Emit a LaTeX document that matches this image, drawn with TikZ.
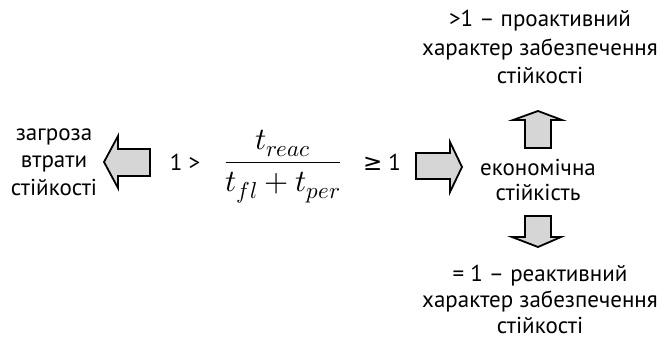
\documentclass[tikz,border=0pt]{standalone}
\usepackage{amsmath}
\usepackage{fontspec}
\usepackage{unicode-math}
\setmainfont{PT Sans}
\setmathfont{Latin Modern Math}
\newfontfamily\symfont{DejaVu Sans}
\newcommand\subbox[1]{\hbox{\fontsize{23}{23}\selectfont$#1$}}
\definecolor{arrfill}{HTML}{D6D6D6}
\tikzset{
  lbl/.style={font=\fontsize{23}{28}\selectfont, anchor=base, inner sep=0pt},
  bigarrow/.style={draw=black, line width=1.8pt, fill=arrfill, line join=miter},
}
\begin{document}
\begin{tikzpicture}[x=1pt,y=-1pt]
\useasboundingbox (0,0) rectangle (663,343);
% left text
\node[lbl] (threat1) at (54,140) {загроза};
\node[lbl] (threat2) at (54,167) {втрати};
\node[lbl] (threat3) at (54,195) {стійкості};
% left arrow
\draw[bigarrow] (104,162) -- (118,136) -- (118,149) -- (150,149) -- (150,176) -- (118,176) -- (118,188) -- cycle;
% 1 >
\node[lbl] (lt) at (185,170) {1 >};
% fraction
\node[anchor=base, inner sep=0pt] (frac) at (283,170) {\fontsize{31}{34}\selectfont$\dfrac{t_{\subbox{reac}}}{t_{\subbox{fl}}+t_{\subbox{per}}}$};
% >= 1
\node[lbl] (ge) at (382,170) {{\symfont ≥} 1};
% right arrow
\draw[bigarrow] (416,153) -- (450,153) -- (450,142) -- (462,167) -- (450,192) -- (450,179) -- (416,179) -- cycle;
% centre text
\node[lbl] (econ1) at (538,175) {економічна};
\node[lbl] (econ2) at (538,200) {стійкість};
% up arrow
\draw[bigarrow] (525,148) -- (525,120) -- (513,120) -- (538,111) -- (562,120) -- (551,120) -- (551,148) -- cycle;
% down arrow
\draw[bigarrow] (525,216) -- (551,216) -- (551,237) -- (561,237) -- (538,247) -- (512,237) -- (525,237) -- cycle;
% top text
\node[lbl] (pro1) at (540,26) {>1 – проактивний};
\node[lbl] (pro2) at (540,55) {характер забезпечення};
\node[lbl] (pro3) at (540,83) {стійкості};
% bottom text
\node[lbl] (re1) at (540,281) {= 1 – реактивний};
\node[lbl] (re2) at (540,307) {характер забезпечення};
\node[lbl] (re3) at (540,333) {стійкості};
\end{tikzpicture}
\end{document}
